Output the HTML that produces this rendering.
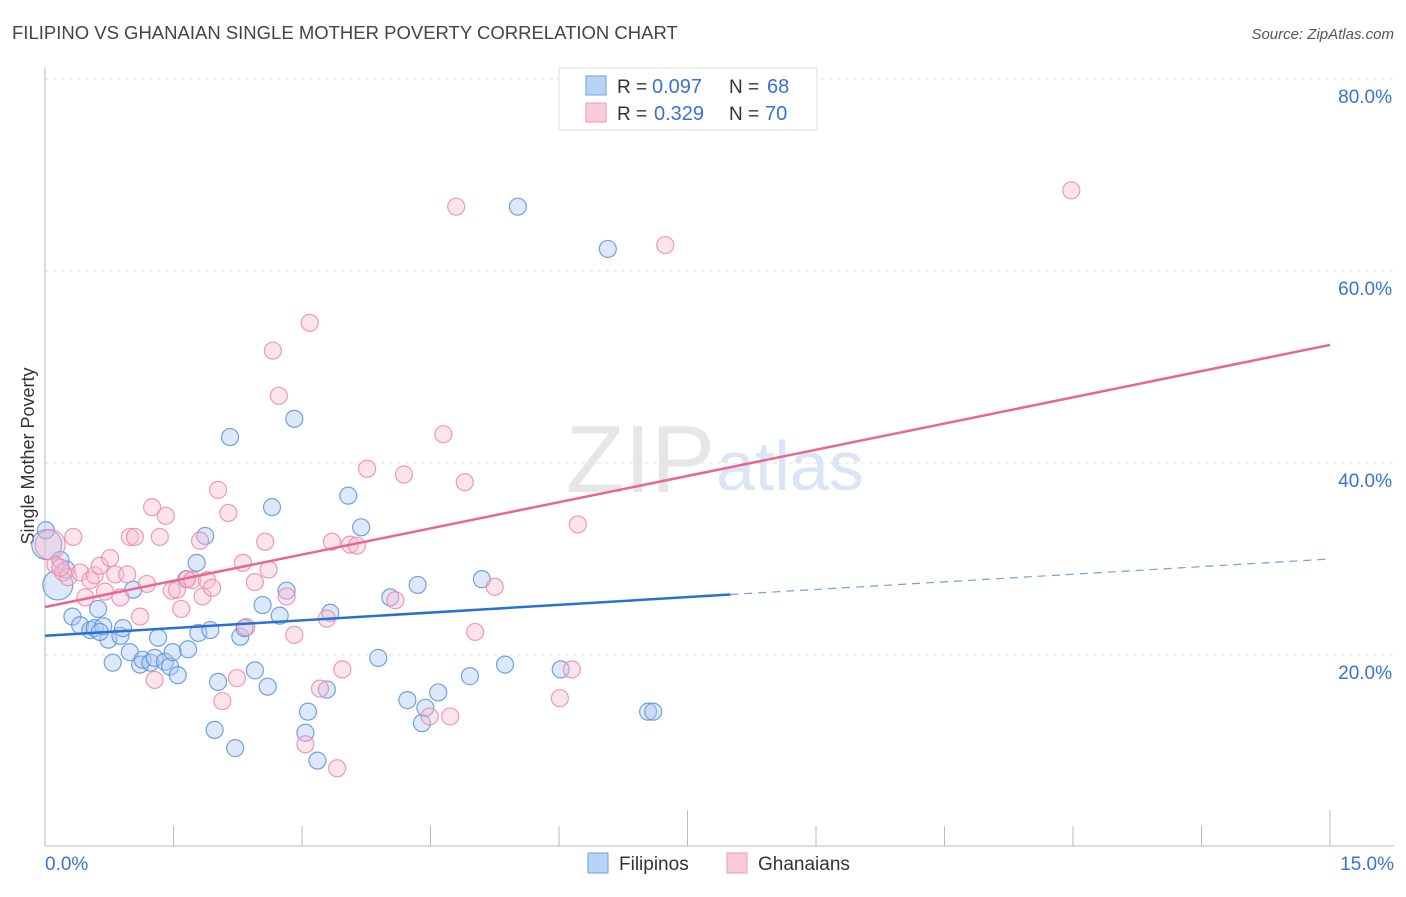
<!DOCTYPE html>
<html><head><meta charset="utf-8"><style>
body{margin:0;background:#fff;font-family:"Liberation Sans",sans-serif}
svg text{font-family:"Liberation Sans",sans-serif}
</style></head><body>
<svg id="c" width="1406" height="892">
<text x="12" y="39" font-size="18.5" fill="#444">FILIPINO VS GHANAIAN SINGLE MOTHER POVERTY CORRELATION CHART</text>
<text x="1394" y="39" font-size="15" fill="#555" font-style="italic" text-anchor="end">Source: ZipAtlas.com</text>
<text x="34" y="456" font-size="18" fill="#333" transform="rotate(-90 34 456)" text-anchor="middle">Single Mother Poverty</text>
<text x="715" y="492" font-size="96" fill="#e6e6e6" font-family="Liberation Serif" text-anchor="end">ZIP</text>
<text x="716" y="490" font-size="70" fill="#dae6f5">atlas</text>
<g id="grid"></g><g id="pts"></g><g id="lines"></g>
<g>
<rect x="559" y="68" width="258" height="62" fill="#fff" stroke="#ddd"/>
<rect x="586" y="76" width="20" height="19" fill="#b8d4f5" stroke="#6fa0e0"/>
<rect x="586" y="103" width="20" height="19" fill="#fbcad8" stroke="#ee9ab4"/>
<text x="617" y="93" font-size="19" fill="#333">R =</text><text x="652" y="93" font-size="20" fill="#3a72d0">0.097</text>
<text x="729" y="93" font-size="19" fill="#333">N =</text><text x="767" y="93" font-size="20" fill="#3a72d0">68</text>
<text x="617" y="120" font-size="19" fill="#333">R =</text><text x="654" y="120" font-size="20" fill="#3a72d0">0.329</text>
<text x="729" y="120" font-size="19" fill="#333">N =</text><text x="765" y="120" font-size="20" fill="#3a72d0">70</text>
</g>
<g>
<rect x="588" y="853" width="20" height="20" fill="#b8d4f5" stroke="#6fa0e0"/>
<text x="619" y="870" font-size="19" fill="#333">Filipinos</text>
<rect x="727" y="853" width="20" height="20" fill="#fbcad8" stroke="#ee9ab4"/>
<text x="758" y="870" font-size="19" fill="#333">Ghanaians</text>
</g>
</svg>
<script>
const xTicks=[0,1.5,3,4.5,6,7.5,9,10.5,12,13.5,15];
const yTicks=[20,40,60,80];
const yTickLabels=["20.0%","40.0%","60.0%","80.0%"];
const filPx=[[47,545],[58,585],[60,560],[72,617],[98,609],[80,625],[90,630],[95,628],[108,640],[120,636],[123,628],[103,626],[113,663],[130,652],[140,665],[143,660],[150,663],[155,658],[158,638],[165,662],[170,667],[173,652],[178,675],[188,649],[198,633],[210,630],[218,682],[215,730],[235,748],[230,437],[240,637],[245,628],[255,670],[268,687],[263,605],[272,507],[280,616],[287,591],[294,419],[308,712],[305,733],[317,761],[327,690],[330,613],[348,496],[361,527],[378,658],[390,597],[407,700],[418,585],[422,723],[425,708],[438,692],[470,676],[482,579],[505,665],[518,207],[561,669],[608,249],[648,712],[653,712],[133,590],[205,536],[197,563],[186,579],[46,530],[66,570],[100,632]];
const ghaPx=[[50,545],[73,537],[55,565],[63,572],[68,577],[80,572],[85,597],[90,580],[95,575],[100,566],[105,592],[110,558],[115,574],[120,597],[127,574],[130,537],[135,537],[140,617],[147,584],[152,507],[155,680],[160,537],[166,516],[172,591],[177,590],[181,609],[187,579],[192,580],[200,541],[203,596],[207,580],[212,588],[218,490],[222,701],[228,513],[237,678],[243,563],[246,627],[255,582],[265,542],[269,570],[273,351],[279,396],[287,596],[294,635],[305,744],[310,323],[320,689],[327,619],[332,542],[337,768],[342,669],[350,545],[357,546],[367,469],[395,600],[404,475],[430,716],[443,434],[450,716],[456,207],[465,482],[475,632],[495,587],[560,698],[572,669],[578,524],[665,245],[1071,190],[60,568]];
const filX=filPx.map(p=>+((p[0]-45)/85.667).toFixed(2)), filY=filPx.map(p=>+((847-p[1])/9.6).toFixed(1));
const ghaX=ghaPx.map(p=>+((p[0]-45)/85.667).toFixed(2)), ghaY=ghaPx.map(p=>+((847-p[1])/9.6).toFixed(1));
const filTrend=[22.0,26.3,30.0];
const ghaTrend=[25.0,52.3];
const X=v=>45+v*85.667, Y=v=>847-v*9.6;
const NS="http://www.w3.org/2000/svg";
function mk(t,a,p){const e=document.createElementNS(NS,t);for(const k in a)e.setAttribute(k,a[k]);p.appendChild(e);return e;}
const g=document.getElementById('grid');
yTicks.forEach((v,i)=>{
 const l=mk('line',{x1:45,x2:1394,y1:Y(v),y2:Y(v),stroke:'#e2e2e2','stroke-dasharray':'4,4'},g);
 
 
 const t=mk('text',{x:1392,y:Y(v)+24,'font-size':19,fill:'#3a72d0','text-anchor':'end'},g);t.textContent=yTickLabels[i];
 
 
});
mk('line',{x1:45,x2:45,y1:68,y2:846,stroke:'#bbb'},g);
mk('line',{x1:45,x2:1394,y1:846,y2:846,stroke:'#bbb'},g);
xTicks.forEach((v,i)=>{const tall=(i==5||i==10);const l=mk('line',{x1:X(v),x2:X(v),y1:tall?810:826,y2:846,stroke:'#bbb'},g);
 
 });
let t=mk('text',{x:45,y:870,'font-size':19,fill:'#3a72d0'},g);t.textContent='0.0%';


t=mk('text',{x:1394,y:870,'font-size':19,fill:'#3a72d0','text-anchor':'end'},g);t.textContent='15.0%';


const P=document.getElementById('pts');
function pts(xs,ys,fill,stroke,name){xs.forEach((x,i)=>{const big=(x<0.3&&i<2);const c=mk('circle',{cx:X(x),cy:Y(ys[i]),r:big?15:8.5,fill:fill,'fill-opacity':0.4,stroke:stroke,'stroke-opacity':0.85,'stroke-width':1.2},P);
 
 });}
pts(filX,filY,'#a9c9f2','#5a92dc','point-filipinos');
pts(ghaX,ghaY,'#f8bcd0','#ec8aa8','point-ghanaians');
const L=document.getElementById('lines');
let ln=mk('line',{x1:X(0),y1:Y(filTrend[0]),x2:X(8),y2:Y(filTrend[1]),stroke:'#2a6fd6','stroke-width':2.5},L);


ln=mk('line',{x1:X(8),y1:Y(filTrend[1]),x2:X(15),y2:Y(filTrend[2]),stroke:'#6fa0e0','stroke-width':1.2,'stroke-dasharray':'8,6'},L);


ln=mk('line',{x1:X(0),y1:Y(ghaTrend[0]),x2:X(15),y2:Y(ghaTrend[1]),stroke:'#e8678f','stroke-width':2.5},L);


</script>
</body></html>
